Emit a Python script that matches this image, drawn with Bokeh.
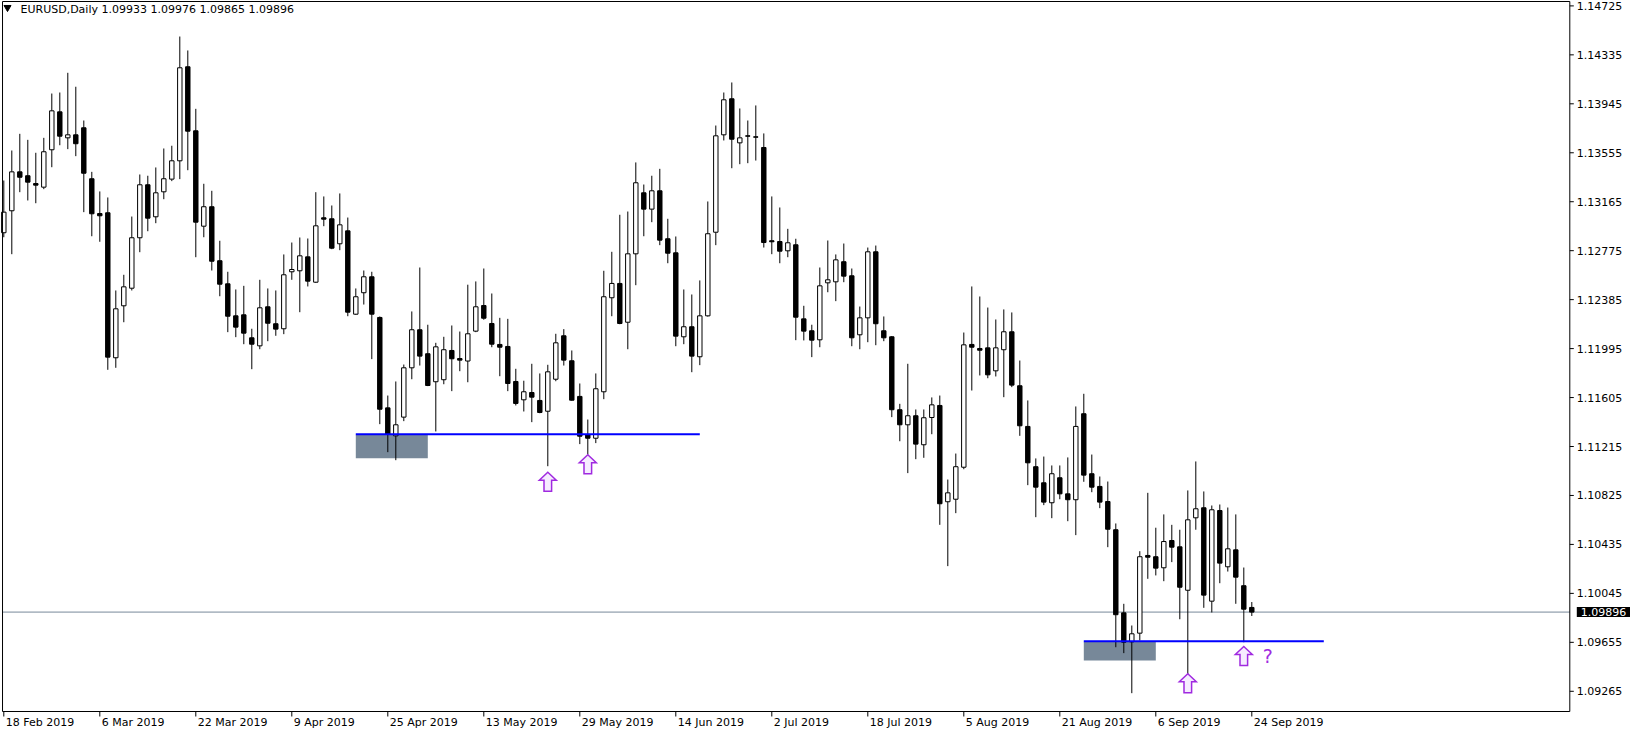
from bokeh.plotting import figure
from bokeh.models import Range1d, Label
from bokeh.embed import file_html
from bokeh.resources import INLINE
from bokeh.core.properties import value

# ---------------- data (EURUSD daily, 18 Feb 2019 .. 24 Sep 2019) ----------------
opens = [1.12918, 1.13093, 1.13403, 1.13372, 1.13310, 1.13281, 1.13579, 1.13881, 1.13674, 1.13698,
         1.13754, 1.13348, 1.13071, 1.13077, 1.11922, 1.12336, 1.12476, 1.12878, 1.13300, 1.13045,
         1.13244, 1.13345, 1.13491, 1.14240, 1.13730, 1.12970, 1.13125, 1.12695, 1.12511, 1.12256,
         1.12264, 1.12081, 1.12017, 1.12328, 1.12193, 1.12153, 1.12607, 1.12615, 1.12726, 1.12524,
         1.13037, 1.13029, 1.12830, 1.12933, 1.12269, 1.12440, 1.12567, 1.12243, 1.11523, 1.11300,
         1.11449, 1.11842, 1.12145, 1.11954, 1.11731, 1.11747, 1.11980, 1.11916, 1.11896, 1.12134,
         1.12338, 1.12195, 1.12028, 1.12012, 1.11733, 1.11587, 1.11645, 1.11582, 1.11496, 1.11751,
         1.12097, 1.11898, 1.11614, 1.11308, 1.11281, 1.11651, 1.12400, 1.12514, 1.12205, 1.12750,
         1.13236, 1.13106, 1.13252, 1.12870, 1.12758, 1.12089, 1.12169, 1.11930, 1.12256, 1.12922,
         1.13698, 1.13985, 1.13634, 1.13690, 1.13682, 1.13597, 1.12854, 1.12848, 1.12774, 1.12822,
         1.12232, 1.12137, 1.12065, 1.12519, 1.12527, 1.12687, 1.12575, 1.12105, 1.12240, 1.12766,
         1.12137, 1.12089, 1.11508, 1.11388, 1.11460, 1.11229, 1.11446, 1.11542, 1.10775, 1.10795,
         1.11050, 1.12028, 1.11996, 1.12001, 1.11818, 1.11986, 1.12129, 1.11699, 1.11375, 1.11054,
         1.10926, 1.10767, 1.10966, 1.10838, 1.10791, 1.11476, 1.10998, 1.10897, 1.10777, 1.10552,
         1.09890, 1.09659, 1.09728, 1.10347, 1.10337, 1.10249, 1.10466, 1.10416, 1.10070, 1.10647,
         1.10727, 1.09983, 1.10705, 1.10257, 1.10392, 1.10106, 1.09933]
highs = [1.13334, 1.13573, 1.13706, 1.13658, 1.13555, 1.13674, 1.14027, 1.14035, 1.14192, 1.14081,
         1.13812, 1.13403, 1.13247, 1.13199, 1.12458, 1.12583, 1.13047, 1.13382, 1.13372, 1.13438,
         1.13589, 1.13611, 1.14481, 1.14370, 1.13905, 1.13308, 1.13252, 1.12854, 1.12607, 1.12466,
         1.12495, 1.12153, 1.12543, 1.12474, 1.12458, 1.12745, 1.12840, 1.12880, 1.12872, 1.13241,
         1.13207, 1.13135, 1.13231, 1.13039, 1.12474, 1.12617, 1.12607, 1.12251, 1.11621, 1.11733,
         1.11868, 1.12291, 1.12641, 1.12185, 1.12041, 1.12089, 1.12179, 1.12131, 1.12504, 1.12530,
         1.12633, 1.12434, 1.12240, 1.12232, 1.11834, 1.11739, 1.11874, 1.11797, 1.11866, 1.12113,
         1.12150, 1.11980, 1.11717, 1.11430, 1.11797, 1.12615, 1.12766, 1.13061, 1.13087, 1.13478,
         1.13302, 1.13372, 1.13427, 1.13029, 1.12888, 1.12466, 1.12426, 1.12538, 1.13167, 1.13772,
         1.14035, 1.14115, 1.13908, 1.13812, 1.13932, 1.13709, 1.13207, 1.13119, 1.12949, 1.12870,
         1.12336, 1.12185, 1.12641, 1.12856, 1.12745, 1.12832, 1.12633, 1.12330, 1.12800, 1.12816,
         1.12251, 1.12095, 1.11555, 1.11874, 1.11510, 1.11510, 1.11606, 1.11621, 1.10952, 1.11159,
         1.12123, 1.12490, 1.12410, 1.12322, 1.12227, 1.12307, 1.12283, 1.11900, 1.11582, 1.11120,
         1.11135, 1.11064, 1.11064, 1.11128, 1.11534, 1.11635, 1.11151, 1.10976, 1.10936, 1.10602,
         1.09962, 1.09789, 1.10381, 1.10846, 1.10568, 1.10674, 1.10591, 1.10552, 1.10865, 1.11096,
         1.10857, 1.10745, 1.10753, 1.10729, 1.10674, 1.10251, 1.09976]
lows = [1.12882, 1.12747, 1.13241, 1.13175, 1.13153, 1.13265, 1.13440, 1.13615, 1.13584, 1.13528,
        1.13082, 1.12890, 1.12846, 1.11826, 1.11842, 1.12205, 1.12458, 1.12763, 1.12930, 1.12994,
        1.13185, 1.13329, 1.13345, 1.13416, 1.12723, 1.12882, 1.12617, 1.12412, 1.12126, 1.12086,
        1.12030, 1.11831, 1.11990, 1.12054, 1.12097, 1.12110, 1.12543, 1.12285, 1.12490, 1.12519,
        1.12970, 1.12787, 1.12779, 1.12253, 1.12264, 1.12346, 1.11911, 1.11393, 1.11170, 1.11106,
        1.11417, 1.11751, 1.11860, 1.11696, 1.11335, 1.11711, 1.11656, 1.11815, 1.11727, 1.12126,
        1.12225, 1.12006, 1.11775, 1.11656, 1.11542, 1.11494, 1.11409, 1.11480, 1.11058, 1.11735,
        1.11860, 1.11580, 1.11234, 1.11151, 1.11242, 1.11592, 1.12253, 1.12189, 1.11990, 1.12500,
        1.12890, 1.13002, 1.12819, 1.12675, 1.12014, 1.12030, 1.11807, 1.11863, 1.12250, 1.12819,
        1.13653, 1.13432, 1.13464, 1.13472, 1.13493, 1.12800, 1.12747, 1.12675, 1.12723, 1.12062,
        1.12060, 1.11927, 1.12006, 1.12444, 1.12373, 1.12524, 1.12014, 1.11990, 1.12046, 1.12022,
        1.12054, 1.11449, 1.11257, 1.11003, 1.11114, 1.11125, 1.11313, 1.10591, 1.10262, 1.10684,
        1.11034, 1.11661, 1.11781, 1.11759, 1.11773, 1.11608, 1.11688, 1.11300, 1.10907, 1.10652,
        1.10748, 1.10644, 1.10795, 1.10620, 1.10509, 1.10934, 1.10851, 1.10724, 1.10413, 1.09616,
        1.09569, 1.09250, 1.09670, 1.10161, 1.10188, 1.10142, 1.10294, 1.09839, 1.09272, 1.10552,
        1.09930, 1.09893, 1.10126, 1.10219, 1.09962, 1.09656, 1.09865]
closes = [1.13082, 1.13403, 1.13360, 1.13321, 1.13297, 1.13563, 1.13889, 1.13687, 1.13698, 1.13627,
          1.13392, 1.13069, 1.13053, 1.11927, 1.12312, 1.12487, 1.12878, 1.13300, 1.13034, 1.13236,
          1.13348, 1.13491, 1.14232, 1.13727, 1.13002, 1.13125, 1.12691, 1.12508, 1.12253, 1.12166,
          1.12118, 1.12030, 1.12320, 1.12197, 1.12150, 1.12583, 1.12625, 1.12734, 1.12532, 1.12973,
          1.13026, 1.12795, 1.12981, 1.12285, 1.12408, 1.12567, 1.12269, 1.11512, 1.11313, 1.11388,
          1.11842, 1.12145, 1.11935, 1.11701, 1.12009, 1.11986, 1.11914, 1.11903, 1.12113, 1.12328,
          1.12237, 1.12030, 1.12006, 1.11717, 1.11558, 1.11651, 1.11608, 1.11486, 1.11810, 1.12041,
          1.11903, 1.11584, 1.11297, 1.11281, 1.11675, 1.12408, 1.12514, 1.12195, 1.12750, 1.13316,
          1.13106, 1.13252, 1.12859, 1.12755, 1.12094, 1.12169, 1.11935, 1.12256, 1.12910, 1.13690,
          1.13977, 1.13663, 1.13674, 1.13687, 1.13679, 1.12840, 1.12846, 1.12771, 1.12838, 1.12245,
          1.12134, 1.12062, 1.12495, 1.12543, 1.12702, 1.12572, 1.12081, 1.12240, 1.12766, 1.12193,
          1.12081, 1.11508, 1.11388, 1.11460, 1.11234, 1.11444, 1.11547, 1.10759, 1.10846, 1.11054,
          1.12025, 1.12006, 1.11982, 1.11786, 1.12001, 1.12129, 1.11704, 1.11380, 1.11085, 1.10891,
          1.10772, 1.10998, 1.10838, 1.10791, 1.11375, 1.10987, 1.10891, 1.10772, 1.10556, 1.09875,
          1.09656, 1.09723, 1.10337, 1.10333, 1.10246, 1.10458, 1.10413, 1.10094, 1.10631, 1.10719,
          1.10031, 1.10711, 1.10286, 1.10400, 1.10174, 1.09919, 1.09896]

date_ticks = [0, 12, 24, 36, 48, 60, 72, 84, 96, 108, 120, 132, 144, 156]
date_labels = ["18 Feb 2019", "6 Mar 2019", "22 Mar 2019", "9 Apr 2019", "25 Apr 2019",
               "13 May 2019", "29 May 2019", "14 Jun 2019", "2 Jul 2019", "18 Jul 2019",
               "5 Aug 2019", "21 Aug 2019", "6 Sep 2019", "24 Sep 2019"]
price_ticks = [1.14725, 1.14335, 1.13945, 1.13555, 1.13165, 1.12775, 1.12385, 1.11995,
               1.11605, 1.11215, 1.10825, 1.10435, 1.10045, 1.09655, 1.09265]
price_labels = ["1.14725", "1.14335", "1.13945", "1.13555", "1.13165", "1.12775", "1.12385", "1.11995",
                "1.11605", "1.11215", "1.10825", "1.10435", "1.10045", "1.09655", "1.09265"]

# objects drawn on the chart
zone_start = [44, 135]
zone_end = [53, 144]
zone_top = [1.11308, 1.09659]
zone_bottom = [1.11122, 1.09510]
level_start = [44, 135]
level_end = [87, 165]
level_price = [1.11313, 1.09664]
arrow_bar = [68, 73, 148, 155]
arrow_price = [1.11010, 1.11149, 1.09405, 1.09622]
question_bar = [158]
question_price = [1.09550]
last_price = 1.09896
last_price_label = "1.09896"
title_text = "EURUSD,Daily  1.09933 1.09976 1.09865 1.09896"

# ---------------- layout constants (chart window like the terminal) ----------------
W, H = 1630, 732
PX_PER_BAR = 8.0
PX_PER_PRICE = 12553.0
X0 = -0.4125
Y1 = 1.14768
x_end = X0 + W / PX_PER_BAR
y_start = Y1 - H / PX_PER_PRICE
border_left, border_right = -0.16, 195.75
border_top, border_bottom = 1.14760, 1.09104

FONT = "DejaVu Sans"
VIOLET = "#a02ae0"

p = figure(width=W, height=H, output_backend="svg", toolbar_location=None,
           x_range=Range1d(X0, x_end), y_range=Range1d(y_start, Y1),
           x_axis_location=None, y_axis_location=None,
           min_border_left=0, min_border_right=0, min_border_top=0, min_border_bottom=0)
p.grid.visible = False
p.outline_line_color = None
p.background_fill_color = "white"
p.border_fill_color = "white"

# zones (behind candles)
p.quad(left=zone_start, right=zone_end, top=zone_top, bottom=zone_bottom,
       fill_color="#778899", line_color=None)

# bid line
p.segment(x0=[border_left], x1=[border_right], y0=[last_price], y1=[last_price],
          line_color="#778899", line_width=1)

# candles
idx = list(range(len(opens)))
p.segment(x0=idx, y0=lows, x1=idx, y1=highs, line_color="black", line_width=1)
up = [i for i in idx if closes[i] >= opens[i]]
dn = [i for i in idx if closes[i] < opens[i]]
p.vbar(x=up, width=0.55, top=[closes[i] for i in up], bottom=[opens[i] for i in up],
       fill_color="white", line_color="black", line_width=1)
p.vbar(x=dn, width=0.55, top=[opens[i] for i in dn], bottom=[closes[i] for i in dn],
       fill_color="black", line_color="black", line_width=1)

# horizontal levels
p.segment(x0=level_start, x1=level_end, y0=level_price, y1=level_price,
          line_color="#0000ff", line_width=2)

# hollow up arrows (shape in screen pixels, anchored at bar / price)
shape_dx = [0, 8.5, 3.8, 3.8, -3.8, -3.8, -8.5]
shape_dy = [0, 8.0, 8.0, 19, 19, 8.0, 8.0]
axs = [[b + dx / PX_PER_BAR for dx in shape_dx] for b in arrow_bar]
ays = [[pr - dy / PX_PER_PRICE for dy in shape_dy] for pr in arrow_price]
p.patches(xs=axs, ys=ays, fill_color="#f6ecff", line_color=VIOLET, line_width=1.5,
          line_join="miter")

p.text(x=question_bar, y=question_price, text=["?"],
       text_font=value(FONT), text_font_size="19px", text_color=VIOLET,
       text_align="center", text_baseline="middle")

# chart border
p.quad(left=[border_left], right=[border_right], top=[border_top], bottom=[border_bottom],
       fill_color=None, line_color="black", line_width=1)

# price scale (right)
n_p = len(price_ticks)
p.segment(x0=[border_right] * n_p, x1=[border_right + 4 / PX_PER_BAR] * n_p,
          y0=price_ticks, y1=price_ticks, line_color="black", line_width=1)
p.text(x=[border_right] * n_p, y=price_ticks, text=price_labels, x_offset=7,
       text_font=value(FONT), text_font_size="11px", text_color="black",
       text_align="left", text_baseline="middle")

# time scale (bottom)
n_d = len(date_ticks)
p.segment(x0=date_ticks, x1=date_ticks, y0=[border_bottom] * n_d,
          y1=[border_bottom - 5 / PX_PER_PRICE] * n_d, line_color="black", line_width=1)
p.text(x=date_ticks, y=[border_bottom] * n_d, text=date_labels, x_offset=2, y_offset=4,
       text_font=value(FONT), text_font_size="11px", text_color="black",
       text_align="left", text_baseline="top")

# bid price box on the price scale
try:
    bid = Label(x=border_right, y=last_price, x_offset=7, text=last_price_label,
                text_align="left", text_baseline="middle", text_font=FONT, text_font_size="11px",
                text_color="white", background_fill_color="black", padding=(4, 1))
except Exception:
    bid = Label(x=border_right, y=last_price, x_offset=7, text=last_price_label,
                text_align="left", text_baseline="middle", text_font=FONT, text_font_size="11px",
                text_color="white", background_fill_color="black", padding=2)
p.add_layout(bid)

# title
p.scatter(x=[X0 + 7 / PX_PER_BAR], y=[Y1 - 7 / PX_PER_PRICE], marker="inverted_triangle", size=7,
          fill_color="black", line_color="black")
p.add_layout(Label(x=X0, y=Y1, x_offset=20, y_offset=-2, text=title_text,
                   text_baseline="top", text_font=FONT, text_font_size="11px", text_color="black"))

open("out.html", "w").write(file_html(p, INLINE))
